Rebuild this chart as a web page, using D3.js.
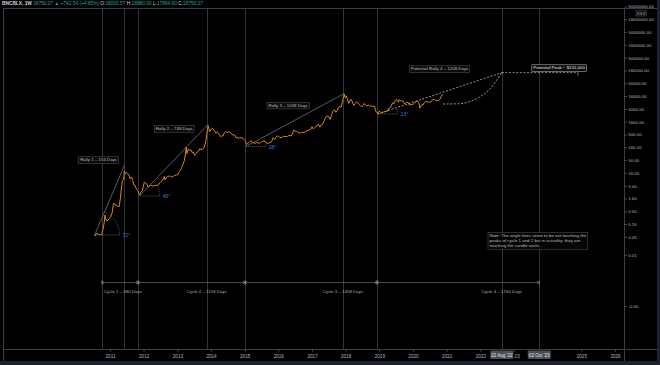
<!DOCTYPE html>
<html><head><meta charset="utf-8">
<script src="https://cdn.jsdelivr.net/npm/d3@7"></script>
<style>html,body{margin:0;padding:0;background:#000;overflow:hidden}svg{display:block}text{font-family:"Liberation Sans",Arial,sans-serif}</style>
</head><body><svg id="c" width="660" height="365"></svg>
<script>
// ---------- DATA ----------
const priceDates = ["2010-07-18","2010-07-25","2010-08-08","2010-08-22","2010-09-05","2010-09-19","2010-10-03","2010-10-17","2010-10-31","2010-11-07","2010-11-14","2010-11-28","2010-12-12","2010-12-26",
"2011-01-09","2011-01-23","2011-02-06","2011-02-13","2011-02-27","2011-03-13","2011-03-27","2011-04-10","2011-04-24","2011-05-01","2011-05-15","2011-05-29","2011-06-05","2011-06-12","2011-06-26","2011-07-10","2011-07-24","2011-08-07","2011-08-21","2011-09-04","2011-09-18","2011-10-02","2011-10-16","2011-10-30","2011-11-13","2011-11-20","2011-12-04","2011-12-18",
"2012-01-08","2012-01-22","2012-02-05","2012-02-19","2012-03-04","2012-03-18","2012-04-01","2012-04-15","2012-05-06","2012-05-20","2012-06-03","2012-06-17","2012-07-01","2012-07-15","2012-07-29","2012-08-12","2012-08-19","2012-09-02","2012-09-16","2012-10-07","2012-10-21","2012-11-04","2012-11-18","2012-12-02","2012-12-23",
"2013-01-06","2013-01-20","2013-02-03","2013-02-17","2013-03-03","2013-03-17","2013-03-31","2013-04-07","2013-04-14","2013-04-28","2013-05-12","2013-05-26","2013-06-09","2013-06-23","2013-07-07","2013-07-21","2013-08-04","2013-08-18","2013-09-01","2013-09-15","2013-09-29","2013-10-13","2013-10-27","2013-11-10","2013-11-17","2013-11-24","2013-12-01","2013-12-08","2013-12-15","2013-12-22","2013-12-29",
"2014-01-12","2014-01-26","2014-02-09","2014-02-23","2014-03-09","2014-03-23","2014-04-06","2014-04-13","2014-04-27","2014-05-11","2014-05-25","2014-06-08","2014-06-22","2014-07-06","2014-07-20","2014-08-03","2014-08-17","2014-08-31","2014-09-14","2014-09-28","2014-10-12","2014-10-26","2014-11-09","2014-11-23","2014-12-07","2014-12-21",
"2015-01-04","2015-01-11","2015-01-18","2015-02-01","2015-02-15","2015-03-01","2015-03-15","2015-03-29","2015-04-12","2015-04-26","2015-05-10","2015-05-24","2015-06-07","2015-06-21","2015-07-05","2015-07-19","2015-08-02","2015-08-16","2015-08-30","2015-09-13","2015-09-27","2015-10-11","2015-10-25","2015-11-01","2015-11-08","2015-11-22","2015-12-06","2015-12-20",
"2016-01-03","2016-01-17","2016-01-31","2016-02-14","2016-02-28","2016-03-13","2016-03-27","2016-04-10","2016-04-24","2016-05-08","2016-05-22","2016-06-05","2016-06-12","2016-06-19","2016-07-03","2016-07-17","2016-07-31","2016-08-14","2016-08-28","2016-09-11","2016-09-25","2016-10-09","2016-10-23","2016-11-06","2016-11-20","2016-12-04","2016-12-18",
"2017-01-01","2017-01-15","2017-01-29","2017-02-12","2017-02-26","2017-03-12","2017-03-26","2017-04-09","2017-04-23","2017-05-07","2017-05-21","2017-06-04","2017-06-18","2017-07-02","2017-07-16","2017-07-30","2017-08-13","2017-08-27","2017-09-03","2017-09-17","2017-10-01","2017-10-15","2017-10-29","2017-11-12","2017-11-26","2017-12-03","2017-12-10","2017-12-17","2017-12-24","2017-12-31",
"2018-01-07","2018-01-14","2018-01-21","2018-02-04","2018-02-18","2018-03-04","2018-03-18","2018-04-01","2018-04-15","2018-04-29","2018-05-13","2018-05-27","2018-06-10","2018-06-24","2018-07-08","2018-07-22","2018-08-05","2018-08-19","2018-09-02","2018-09-16","2018-09-30","2018-10-14","2018-10-28","2018-11-11","2018-11-18","2018-11-25","2018-12-09","2018-12-16","2018-12-23",
"2019-01-06","2019-01-20","2019-02-03","2019-02-17","2019-03-03","2019-03-17","2019-03-31","2019-04-07","2019-04-21","2019-05-05","2019-05-12","2019-05-26","2019-06-09","2019-06-23","2019-06-30","2019-07-07","2019-07-14","2019-07-28","2019-08-04","2019-08-18","2019-09-01","2019-09-15","2019-09-29","2019-10-13","2019-10-27","2019-11-10","2019-11-24","2019-12-08","2019-12-22",
"2020-01-05","2020-01-19","2020-02-02","2020-02-09","2020-02-23","2020-03-08","2020-03-15","2020-03-22","2020-04-05","2020-04-19","2020-05-03","2020-05-17","2020-05-31","2020-06-14","2020-06-28","2020-07-12","2020-07-26","2020-08-09","2020-08-23","2020-09-06","2020-09-20","2020-10-04","2020-10-18","2020-10-25","2020-11-01","2020-11-08","2020-11-15","2020-11-23"];
const priceValues = [0.06,0.055,0.07,0.066,0.062,0.062,0.062,0.10,0.19,0.36,0.26,0.21,0.23,0.27,
0.32,0.42,0.92,1.05,0.86,0.87,0.80,0.76,1.65,3.0,8.0,8.8,18.5,15.0,16.5,14.5,13.9,9.5,11.0,8.0,5.3,5.0,3.6,3.2,2.3,2.3,2.9,3.2,
6.8,6.3,5.9,4.4,4.9,5.3,4.9,4.9,5.1,5.1,5.3,6.3,6.7,7.6,9.0,11.5,8.5,10.2,11.7,11.9,11.7,10.8,11.8,12.6,13.4,
13.5,17.5,20.5,26,34,47,93,162,90,135,116,130,100,104,77,92,104,112,141,128,133,143,196,340,560,820,1100,900,660,670,760,
870,830,690,570,630,570,460,420,440,440,580,650,590,630,620,590,500,480,480,380,390,355,370,370,375,330,
290,265,205,225,240,270,285,245,235,225,240,240,225,245,260,280,280,255,230,230,238,245,285,360,375,320,390,440,
430,380,375,400,430,415,420,420,455,460,440,570,680,760,660,670,625,570,575,605,600,615,655,705,735,765,790,
1010,820,920,1000,1180,1230,970,1180,1250,1550,2050,2520,2600,2500,1950,2750,4000,4350,4600,3700,4350,5700,6150,5900,9300,11600,15200,19100,13900,14000,
16300,13600,11200,8200,11000,11500,8400,6900,8000,9400,8700,7400,6700,6200,6700,8200,7000,6400,7200,6500,6600,6400,6300,6400,4800,4000,3500,3200,3900,
4000,3550,3450,3900,3850,4050,4100,5100,5300,5800,7000,8700,8000,10800,11500,11500,10200,9500,11700,10300,10400,10300,8000,8300,9300,8800,7000,7500,7200,
7800,8700,9400,10100,9700,8000,5300,5800,7300,7100,8900,9700,9500,9400,9100,9300,11000,11700,11600,10300,10800,10700,11500,13000,15500,15900,18400,18750];

const yTickValues = [1e-4,0.01,0.05,0.16,0.5,1.6,5,16,50,160,500,1600,5000,16000,50000,160000,500000,1600000,5000000,16000000,50000000];
const yTickLabels = ["-0.00","0.01","0.05","0.16","0.50","1.60","5.00","16.00","50.00","160.00","500.00","1600.00","5000.00","16000.00","50000.00","160000.00","500000.00","1600000.00","5000000.00","16000000.00","50000000.00"];
const xTickYears = [2011,2012,2013,2014,2015,2016,2017,2018,2019,2020,2021,2022,2023,2025,2026];
const xMarkerDates = ["2022-08-22","2023-10-02"];
const xMarkerLabels = ["22 Aug '22","02 Oct '23"];

const verticalLineDates = ["2010-10-05","2011-06-02","2011-11-01","2013-11-18","2015-01-05","2017-12-04","2018-12-06","2022-08-22","2023-10-02"];

const cycleStarts = ["2010-10-05","2011-11-01","2015-01-05","2018-12-06"];
const cycleEnds = ["2011-11-01","2015-01-05","2018-12-06","2023-10-02"];
const cycleLabelDates = ["2011-05-20","2013-11-15","2017-12-01","2022-08-22"];
const cycleLabels = ["Cycle 1 – 480 Days","Cycle 2 – 1159 Days","Cycle 3 – 1458 Days","Cycle 4 – 1760 Days"];

const rallyStartDates = ["2010-07-18","2011-11-18","2015-01-14","2018-12-15"];
const rallyStartValues = [0.06,2.0,170,3200];
const rallyEndDates = ["2011-06-08","2013-11-30","2017-12-17","2022-08-22"];
const rallyEndValues = [32,1240,19800,131000];
const rallyAngleLabels = ["72°","48°","28°","13°"];
const rallyLabels = ["Rally 1 – 154 Days","Rally 2 – 748 Days","Rally 3 – 1058 Days","Potential Rally 4 – 1208 Days"];

const projLowDates = ["2020-11-23","2021-05-01","2021-09-01","2021-12-15","2022-04-01","2022-08-22"];
const projLowValues = [7800,7900,9500,14000,27000,131000];
const peakRayEndDate = "2024-11-25";
const peakLabel = "Potential Peak ~ $131,000";
const noteLines = ["Note: The angle lines seem to be not touching the","peaks of cycle 1 and 2 but in actuality, they are","touching the candle wicks."];

// ---------- LAYOUT ----------
const W = 660, H = 365;
const L = 3, R = 624, T = 8, B = 349;
const parse = d3.utcParse("%Y-%m-%d");
const FS = 4.4;

const x = d3.scaleUtc().domain([new Date(Date.UTC(2011,0,1)), new Date(Date.UTC(2026,0,1))]).range([110, 615]);
const y = d3.scaleLog().domain([2.113e-6, 4.365e7]).range([B, T]);

const svg = d3.select("#c");
svg.append("rect").attr("width", W).attr("height", H).attr("fill", "#000");

const defs = svg.append("defs");
defs.append("clipPath").attr("id","plot").append("rect").attr("x",L).attr("y",T).attr("width",R-L).attr("height",B-T);

// bands
svg.append("rect").attr("x",0).attr("y",361).attr("width",W).attr("height",4).attr("fill","#1e222d");
svg.append("rect").attr("x",657).attr("y",0).attr("width",3).attr("height",H).attr("fill","#1e222d");

const plot = svg.append("g").attr("clip-path","url(#plot)");

// vertical lines
plot.selectAll("line.v").data(verticalLineDates).join("line")
  .attr("x1", d => Math.round(x(parse(d))) + 0.5).attr("x2", d => Math.round(x(parse(d))) + 0.5)
  .attr("y1", T).attr("y2", B).attr("stroke", "#34363c").attr("stroke-width", 1);

// cycle brackets
const cyc = svg.append("g");
const bracketY = 282.5;
cycleStarts.forEach((s, i) => {
  const x0 = x(parse(s)), x1 = x(parse(cycleEnds[i]));
  cyc.append("line").attr("x1", x0).attr("x2", x1).attr("y1", bracketY).attr("y2", bracketY)
    .attr("stroke", "#5a5d66").attr("stroke-width", 0.8);
  [x0, x1].forEach(xx => cyc.append("line").attr("x1", xx).attr("x2", xx).attr("y1", bracketY-2).attr("y2", bracketY+2)
    .attr("stroke", "#8a8d96").attr("stroke-width", 0.8));
  cyc.append("path").attr("d", `M${x0+2},${bracketY-1.5}L${x0+0.5},${bracketY}L${x0+2},${bracketY+1.5}M${x1-2},${bracketY-1.5}L${x1-0.5},${bracketY}L${x1-2},${bracketY+1.5}`)
    .attr("fill","none").attr("stroke","#8a8d96").attr("stroke-width",0.6);
  cyc.append("text").attr("x", x(parse(cycleLabelDates[i]))).attr("y", 293).attr("text-anchor","middle")
    .attr("font-size", FS).attr("fill","#a8abb3").text(cycleLabels[i]);
});

// rally trend lines, baselines, arcs
const ann = plot.append("g");
rallyStartDates.forEach((s, i) => {
  const x0 = x(parse(s)), y0 = y(rallyStartValues[i]);
  const x1 = x(parse(rallyEndDates[i])), y1 = y(rallyEndValues[i]);
  const dashed = i === 3;
  ann.append("line").attr("x1",x0).attr("y1",y0).attr("x2",x1).attr("y2",y1)
    .attr("stroke", dashed ? "#b8bbc2" : "#7d8088").attr("stroke-width", dashed ? 0.8 : 0.7)
    .attr("stroke-dasharray", dashed ? "2,1.6" : null);
  const r = i === 0 ? 25 : 20;
  ann.append("line").attr("x1",x0).attr("y1",y0).attr("x2",x0+r).attr("y2",y0)
    .attr("stroke","#8a8d96").attr("stroke-width",0.6).attr("stroke-dasharray","1,1");
  const th = Math.atan2(y0 - y1, x1 - x0);
  ann.append("path").attr("d", `M${x0+r},${y0}A${r},${r} 0 0 0 ${x0 + r*Math.cos(th)},${y0 - r*Math.sin(th)}`)
    .attr("fill","none").attr("stroke","#8a8d96").attr("stroke-width",0.6).attr("stroke-dasharray","1,1");
  ann.append("text").attr("x", x0 + r + 3).attr("y", y0 + 2.5).attr("font-size", 5).attr("fill","#2e7fd9").text(rallyAngleLabels[i]);
});

// projected lower curve & peak ray
const proj = plot.append("g");
const lowLine = d3.line().x(d => x(parse(d[0]))).y(d => y(d[1])).curve(d3.curveMonotoneX);
proj.append("path").attr("d", lowLine(projLowDates.map((d,i)=>[d, projLowValues[i]])))
  .attr("fill","none").attr("stroke","#b8bbc2").attr("stroke-width",0.8).attr("stroke-dasharray","2,1.6");
const px = x(parse(rallyEndDates[3])), py = y(rallyEndValues[3]);
const pxe = x(parse(peakRayEndDate));
proj.append("line").attr("x1",px).attr("x2",pxe).attr("y1",py).attr("y2",py)
  .attr("stroke","#b8bbc2").attr("stroke-width",0.7).attr("stroke-dasharray","2,1.6");
proj.append("line").attr("x1",pxe).attr("x2",pxe).attr("y1",py).attr("y2",py+3)
  .attr("stroke","#b8bbc2").attr("stroke-width",0.7);

// price line
const line = d3.line().x(d => x(parse(d[0]))).y(d => y(d[1]));
plot.append("path").attr("d", line(priceDates.map((d,i)=>[d, priceValues[i]])))
  .attr("fill","none").attr("stroke","#d98a14").attr("stroke-width",1).attr("stroke-linejoin","round");

// labelled boxes
function box(g, xx, yy, lines, anchor, stroke, fill, color) {
  const gg = g.append("g");
  const lh = FS + 0.6;
  const texts = lines.map((t, k) => gg.append("text").attr("font-size", FS).attr("fill", color).text(t));
  const w = d3.max(texts, t => t.node().getComputedTextLength()) + 3;
  const h = lines.length * lh + 1.6;
  const bx = anchor === "right" ? xx - w : xx;
  const by = yy - h/2;
  gg.insert("rect", "text").attr("x", bx).attr("y", by).attr("width", w).attr("height", h)
    .attr("fill", fill).attr("stroke", stroke).attr("stroke-width", 0.5);
  texts.forEach((t, k) => t.attr("x", bx + 1.5).attr("y", by + 0.8 + lh*(k+1) - 1.2));
}
const labelsG = svg.append("g");
const rallyLabelOffsets = [[-6,-5],[-14,4.5],[-35,12],[-32,-3.5]];
rallyEndDates.forEach((d, i) => {
  const ex = x(parse(d)), ey = y(rallyEndValues[i]);
  box(labelsG, ex + rallyLabelOffsets[i][0], ey + rallyLabelOffsets[i][1], [rallyLabels[i]], "right", "#55585f", "#0b0b0c", "#b9bcc4");
});
box(labelsG, px + 30, py - 4.5, [peakLabel], "left", "#c9ccd3", "#0b0b0c", "#e6e8ec");
box(labelsG, 488, 241, noteLines, "left", "#55585f", "#050505", "#b9bcc4");

// frame
const fr = svg.append("g").attr("stroke","#3a3d45").attr("stroke-width",1);
fr.append("line").attr("x1",L).attr("x2",657).attr("y1",T+0.5).attr("y2",T+0.5);
fr.append("line").attr("x1",L+0.5).attr("x2",L+0.5).attr("y1",T).attr("y2",361);
fr.append("line").attr("x1",L).attr("x2",657).attr("y1",B+0.5).attr("y2",B+0.5);
fr.append("line").attr("x1",R+0.5).attr("x2",R+0.5).attr("y1",T).attr("y2",361);

// y axis
const yAxis = d3.axisRight(y).tickValues(yTickValues).tickFormat((d,i)=>yTickLabels[i]).tickSize(2.5).tickPadding(1.2);
const ya = svg.append("g").attr("transform", `translate(${R+0.5},0)`).call(yAxis);
ya.select(".domain").remove();
ya.selectAll("line").attr("stroke","#7d8088").attr("stroke-width",0.6);
ya.selectAll("text").attr("font-size", FS).attr("fill","#b2b5be").attr("font-family","Liberation Sans, Arial, sans-serif");
// top-axis small box
const tb = svg.append("g");
tb.append("rect").attr("x",636).attr("y",10.8).attr("width",10.5).attr("height",5.2).attr("fill","#0b0b0c").attr("stroke","#55585f").attr("stroke-width",0.5);
tb.append("text").attr("x",641.2).attr("y",14.8).attr("text-anchor","middle").attr("font-size",FS).attr("fill","#b2b5be").text("XXX");

// x axis
const xAxis = d3.axisBottom(x).tickValues(xTickYears.map(yv => new Date(Date.UTC(yv,0,1)))).tickFormat(d3.utcFormat("%Y")).tickSize(2).tickPadding(3.2);
const xa = svg.append("g").attr("transform", `translate(0,${B+0.5})`).call(xAxis);
xa.select(".domain").remove();
xa.selectAll("line").attr("stroke","#7d8088").attr("stroke-width",0.6);
xa.selectAll("text").attr("font-size", FS+0.2).attr("fill","#b2b5be").attr("font-family","Liberation Sans, Arial, sans-serif");
// the year label partly hidden by the first date marker: shift so only its tail shows beside the marker
xa.selectAll(".tick").filter(d => d.getUTCFullYear() === 2023).select("text")
  .attr("text-anchor","start").attr("dx", 0.8 + (x(parse(xMarkerDates[0])) + 11.5) - x(new Date(Date.UTC(2023,0,1)))).text("23");

xMarkerDates.forEach((d, i) => {
  const cx = x(parse(d));
  svg.append("rect").attr("x", cx - 11.5).attr("y", 350.5).attr("width", 23).attr("height", 8.5).attr("fill","#4a4e57").attr("rx",0.8);
  svg.append("text").attr("x", cx).attr("y", 356.6).attr("text-anchor","middle").attr("font-size", FS+0.2).attr("fill","#e3e5ea").text(xMarkerLabels[i]);
});

// header
const hd = svg.append("text").attr("x", 2).attr("y", 5.4).attr("font-size", 4.8).attr("fill", "#d1d4dc");
hd.append("tspan").attr("font-weight","bold").text("BNCBLX, 1W ");
hd.append("tspan").attr("fill","#26a69a").text(" 18750.07 ▲ +742.54 (+4.65%) ");
hd.append("tspan").attr("fill","#d1d4dc").text(" O:");
hd.append("tspan").attr("fill","#26a69a").text("18003.57 ");
hd.append("tspan").attr("fill","#d1d4dc").text(" H:");
hd.append("tspan").attr("fill","#26a69a").text("18880.00 ");
hd.append("tspan").attr("fill","#d1d4dc").text(" L:");
hd.append("tspan").attr("fill","#26a69a").text("17864.60 ");
hd.append("tspan").attr("fill","#d1d4dc").text(" C:");
hd.append("tspan").attr("fill","#26a69a").text("18750.07");
</script>
</body></html>
